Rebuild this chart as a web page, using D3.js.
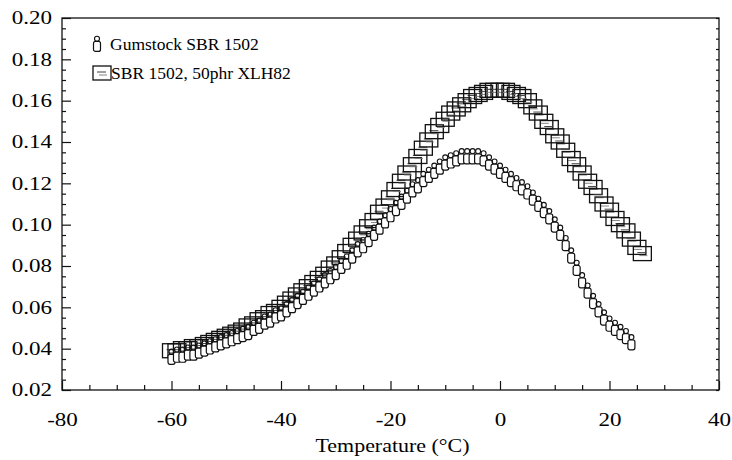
<!DOCTYPE html>
<html>
<head>
<meta charset="utf-8">
<script src="https://cdn.jsdelivr.net/npm/d3@7"></script>
<style>
  body { margin: 0; background: #fff; }
  text { font-family: "Liberation Serif", "Times New Roman", serif; fill: #000; }
</style>
</head>
<body>
<div id="chart"></div>
<script>
// Gumstock SBR 1502 (bottle markers)
const gumTemps = [-60,-59,-58,-57,-56,-55,-54,-53,-52,-51,-50,-49,-48,-47,-46,-45,-44,-43,-42,-41,
  -40,-39,-38,-37,-36,-35,-34,-33,-32,-31,-30,-29,-28,-27,-26,-25,-24,-23,-22,-21,
  -20,-19,-18,-17,-16,-15,-14,-13,-12,-11,-10,-9,-8,-7,-6,-5,-4,-3,-2,-1,
  0,1,2,3,4,5,6,7,8,9,10,11,12,13,14,15,16,17,18,19,20,21,22,23,24];
const gumValues = [0.036,0.037,0.037,0.038,0.038,0.039,0.040,0.041,0.042,0.043,0.044,0.045,0.046,0.047,0.048,0.050,0.051,0.053,0.054,0.056,
  0.057,0.059,0.061,0.063,0.065,0.067,0.069,0.071,0.073,0.075,0.077,0.080,0.082,0.085,0.088,0.090,0.093,0.096,0.099,0.102,
  0.105,0.108,0.111,0.114,0.117,0.119,0.122,0.124,0.126,0.128,0.130,0.131,0.132,0.133,0.133,0.133,0.133,0.132,0.130,0.128,
  0.126,0.124,0.122,0.120,0.118,0.116,0.113,0.110,0.107,0.104,0.100,0.096,0.091,0.085,0.079,0.073,0.068,0.063,0.059,0.055,0.052,0.050,0.048,0.046,0.043];

// SBR 1502, 50phr XLH82 (box markers)
const fillTemps = [-60,-59,-58,-57,-56,-55,-54,-53,-52,-51,-50,-49,-48,-47,-46,-45,-44,-43,-42,-41,
  -40,-39,-38,-37,-36,-35,-34,-33,-32,-31,-30,-29,-28,-27,-26,-25,-24,-23,-22,-21,
  -20,-19,-18,-17,-16,-15,-14,-13,-12,-11,-10,-9,-8,-7,-6,-5,-4,-3,-2,-1,
  0,1,2,3,4,5,6,7,8,9,10,11,12,13,14,15,16,17,18,19,20,21,22,23,24,25,26];
const fillValues = [0.039,0.039,0.040,0.040,0.041,0.041,0.042,0.043,0.044,0.045,0.046,0.047,0.048,0.049,0.051,0.052,0.054,0.055,0.057,0.058,
  0.060,0.062,0.064,0.066,0.068,0.070,0.072,0.074,0.076,0.079,0.081,0.084,0.087,0.090,0.093,0.096,0.099,0.102,0.106,0.109,
  0.113,0.117,0.121,0.125,0.129,0.133,0.137,0.141,0.145,0.148,0.151,0.154,0.156,0.158,0.160,0.162,0.163,0.164,0.165,0.165,
  0.165,0.165,0.164,0.163,0.162,0.160,0.157,0.154,0.150,0.147,0.143,0.140,0.136,0.132,0.129,0.125,0.121,0.118,0.114,0.110,0.107,0.103,0.100,0.097,0.093,0.089,0.086];

const xTicks = [-80, -60, -40, -20, 0, 20, 40];
const yTicks = [0.02, 0.04, 0.06, 0.08, 0.10, 0.12, 0.14, 0.16, 0.18, 0.20];
const legendLabels = ['Gumstock SBR 1502', 'SBR 1502, 50phr XLH82'];
const xTitle = 'Temperature (\u00B0C)';

const W = 732, H = 460;
const margin = { top: 18, right: 13, bottom: 70, left: 62 };
const width = W - margin.left - margin.right;
const height = H - margin.top - margin.bottom;
const stretch = 1.28; // the scanned labels are wide

const svg = d3.select('#chart').append('svg')
    .attr('width', W).attr('height', H)
    .append('g')
    .attr('transform', `translate(${margin.left},${margin.top})`);

const x = d3.scaleLinear().domain([-80, 40]).range([0, width]);
const y = d3.scaleLinear().domain([0.02, 0.20]).range([height, 0]);

// frame
svg.append('rect').attr('width', width).attr('height', height)
    .attr('fill', 'none').attr('stroke', '#111').attr('stroke-width', 1.3);

// ticks, all pointing inwards
const xMinor = d3.range(-75, 40, 5).filter(v => v % 20 !== 0);
const yMinor = d3.range(0.025, 0.2, 0.005).filter(v => Math.abs(v * 50 - Math.round(v * 50)) > 1e-6);

svg.append('g').attr('transform', `translate(0,${height})`)
    .call(d3.axisBottom(x).tickValues(xTicks).tickSizeInner(-9).tickSizeOuter(0).tickPadding(23).tickFormat(d => String(d)))
    .call(g => g.select('.domain').remove());
svg.append('g').attr('transform', `translate(0,${height})`)
    .call(d3.axisBottom(x).tickValues(xMinor).tickSize(-5).tickFormat(''))
    .call(g => g.select('.domain').remove());

const yAxis = svg.append('g')
    .call(d3.axisLeft(y).tickValues(yTicks).tickSizeInner(-9).tickSizeOuter(0).tickFormat(d => d.toFixed(2)))
    .call(g => g.select('.domain').remove());
svg.append('g')
    .call(d3.axisLeft(y).tickValues(yMinor).tickSize(-4).tickFormat(''))
    .call(g => g.select('.domain').remove());
svg.append('g').attr('transform', `translate(${width},0)`)
    .call(d3.axisRight(y).tickValues(yTicks.concat(yMinor)).tickSize(-3).tickFormat(''))
    .call(g => g.select('.domain').remove());

svg.selectAll('.tick line').attr('stroke', '#111').attr('stroke-width', 1.2);
svg.selectAll('.tick text').style('font-size', '18px').attr('fill', '#000')
    .style('font-family', '"Liberation Serif", serif')
    .attr('transform', `scale(${stretch},1)`);
yAxis.selectAll('.tick text').attr('x', -10 / stretch);

// axis title
svg.append('text').attr('transform', `translate(${width / 2 + 2},${height + 62}) scale(1.22,1)`)
    .attr('text-anchor', 'middle').style('font-size', '18px').text(xTitle);

// marker drawers
function bottle(g) {
    g.append('circle').attr('cx', 0).attr('cy', -5.3).attr('r', 2.5)
        .attr('fill', 'none').attr('stroke', '#111').attr('stroke-width', 1.1);
    g.append('rect').attr('x', -3.5).attr('y', -2.6).attr('width', 7).attr('height', 10)
        .attr('rx', 2).attr('fill', '#fff').attr('stroke', '#111').attr('stroke-width', 1.2);
}
function box(g) {
    g.append('rect').attr('x', -9).attr('y', -7).attr('width', 18).attr('height', 14)
        .attr('fill', 'none').attr('stroke', '#111').attr('stroke-width', 1.3);
    g.append('line').attr('x1', -5).attr('x2', 4).attr('y1', -1).attr('y2', -1)
        .attr('stroke', '#444').attr('stroke-width', 1);
    g.append('line').attr('x1', -3).attr('x2', 5).attr('y1', 2).attr('y2', 2)
        .attr('stroke', '#777').attr('stroke-width', 0.9);
}

const fillData = fillTemps.map((t, i) => ({ t, v: fillValues[i] }));
const gumData = gumTemps.map((t, i) => ({ t, v: gumValues[i] }));

svg.append('g').selectAll('g').data(fillData).join('g')
    .attr('transform', d => `translate(${x(d.t)},${y(d.v)})`)
    .each(function () { box(d3.select(this)); });

svg.append('g').selectAll('g').data(gumData).join('g')
    .attr('transform', d => `translate(${x(d.t)},${y(d.v)})`)
    .each(function () { bottle(d3.select(this)); });

// legend
const leg = svg.append('g');
const l1 = leg.append('g').attr('transform', 'translate(35,26)');
bottle(l1);
leg.append('text').attr('x', 48).attr('y', 32).style('font-size', '17.5px').text(legendLabels[0]);
const l2 = leg.append('g').attr('transform', 'translate(40,55)');
box(l2);
leg.append('text').attr('x', 49).attr('y', 61).style('font-size', '17.5px').text(legendLabels[1]);
</script>
</body>
</html>
